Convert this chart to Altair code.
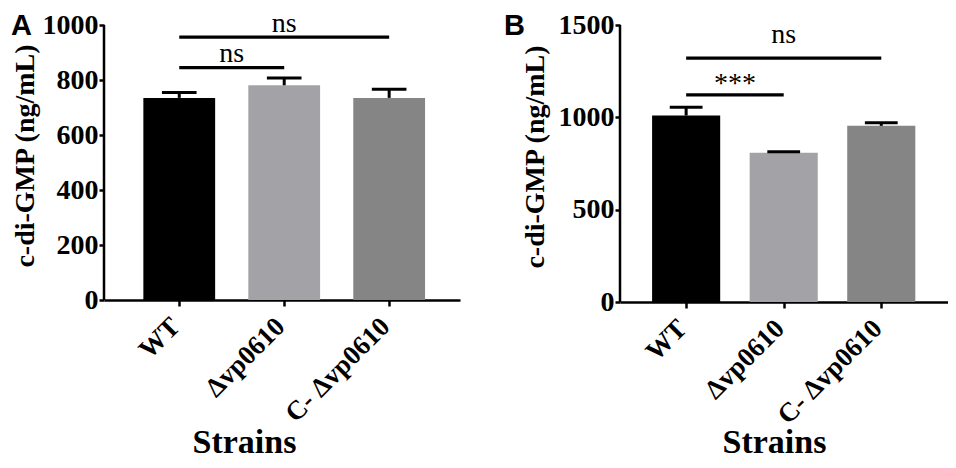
import json
import altair as alt
import pandas as pd

# ---- data ----
strains = ["WT", "Δvp0610", "C- Δvp0610"]
colors = ["#000000", "#a3a3a7", "#858585"]

a_mean = [735, 781, 735]
a_err = [20, 26, 31]
a_ticks = [0, 200, 400, 600, 800, 1000]
a_pair_from = [0, 0]
a_pair_to = [1, 2]
a_pair_y = [845, 956]
a_pair_text = ["ns", "ns"]
a_text_y = [867, 975]

b_mean = [1010, 808, 954]
b_err = [45, 6, 17]
b_ticks = [0, 500, 1000, 1500]
b_pair_from = [0, 0]
b_pair_to = [1, 2]
b_pair_y = [1122, 1321]
b_pair_text = ["***", "ns"]
b_text_y = [1135, 1400]

SERIF = "Liberation Serif"
SANS = "Liberation Sans"


def panel(letter, mean, err, ticks, ytop, pf, pt, py, ptext, pty,
          width, height, xdom, bar_half, cap_half,
          title_dx, title_dy, strains_x, strains_y, ytitle_pad):
    n = len(strains)
    bars = pd.DataFrame({
        "idx": list(range(n)),
        "strain": strains,
        "mean": mean,
        "top": [m + e for m, e in zip(mean, err)],
    })
    pairs = pd.DataFrame({"p0": pf, "p1": pt, "y": py, "label": ptext, "ty": pty})
    spine = pd.DataFrame({"s0": [ticks[0]], "s1": [ticks[-1]]})

    xscale = alt.Scale(domain=xdom, nice=False, zero=False)
    # a little head-room above the top tick for the significance labels
    yscale = alt.Scale(domain=[0, ytop], nice=False)
    label_expr = json.dumps(strains, ensure_ascii=False) + "[datum.value]"
    xaxis = alt.Axis(
        values=list(range(n)), labelExpr=label_expr, labelAngle=315,
        labelAlign="right", labelBaseline="middle", labelPadding=16, labelOffset=-4,
        labelFont=SERIF, labelFontSize=27, labelFontWeight="bold", labelColor="black",
        labelOverlap=False, labelFlush=False,
        tickSize=6, tickWidth=2.5, tickColor="black",
        domainColor="black", domainWidth=2.5, grid=False,
        titleFont=SERIF, titleFontSize=34, titleFontWeight="bold", titleColor="black",
        titleX=strains_x, titleY=strains_y, titleBaseline="alphabetic", titleAlign="center",
    )
    yaxis = alt.Axis(
        values=ticks, format="d", labelFont=SERIF, labelFontSize=28, labelFontWeight="bold",
        labelColor="black", labelPadding=1, tickSize=5, tickWidth=2.5, tickColor="black",
        domain=False, grid=False,
        titleFont=SERIF, titleFontSize=28, titleFontWeight="bold", titleColor="black",
        titlePadding=ytitle_pad,
    )

    def X(f):
        return alt.X(f, type="quantitative", scale=xscale, axis=xaxis, title="Strains")

    def Y(f):
        return alt.Y(f, type="quantitative", scale=yscale, axis=yaxis, title="c-di-GMP (ng/mL)")

    base = alt.Chart(bars)
    bar = base.transform_calculate(
        xa=f"datum.idx - {bar_half}", xb=f"datum.idx + {bar_half}", zero="0"
    ).mark_bar().encode(
        x=X("xa"), x2="xb:Q", y=Y("mean"), y2="zero:Q",
        color=alt.Color("strain:N", scale=alt.Scale(domain=strains, range=colors), legend=None),
    )
    stem = base.mark_rule(color="black", strokeWidth=3).encode(
        x=X("idx"), y=Y("mean"), y2="top:Q"
    )
    cap = base.transform_calculate(
        ca=f"datum.idx - {cap_half}", cb=f"datum.idx + {cap_half}"
    ).mark_rule(color="black", strokeWidth=3).encode(
        x=X("ca"), x2="cb:Q", y=Y("top")
    )
    # y-axis line from the first to the last tick
    yline = alt.Chart(spine).mark_rule(color="black", strokeWidth=2.5).encode(
        x=alt.datum(xdom[0]), y=Y("s0"), y2="s1:Q"
    )
    pc = alt.Chart(pairs)
    bracket = pc.mark_rule(color="black", strokeWidth=3.3).encode(
        x=X("p0"), x2="p1:Q", y=Y("y")
    )
    lab = pc.transform_calculate(mid="(datum.p0 + datum.p1) / 2").mark_text(
        font=SERIF, fontSize=28, baseline="alphabetic", align="center", color="black", clip=True
    ).encode(x=X("mid"), y=Y("ty"), text="label:N")

    return alt.layer(bar, stem, cap, yline, bracket, lab).properties(
        width=width, height=height,
        title=alt.TitleParams(
            text=letter, anchor="start", frame="bounds", font=SANS, fontSize=29,
            fontWeight="bold", color="black", dx=title_dx, dy=title_dy, offset=0,
        ),
    )


pa = panel("A", a_mean, a_err, a_ticks, 1051, a_pair_from, a_pair_to, a_pair_y, a_pair_text, a_text_y,
           356, 289, [-0.717, 2.675], 0.342, 0.165, 0, 30, 140, 152, 3)
pb = panel("B", b_mean, b_err, b_ticks, 1576, b_pair_from, b_pair_to, b_pair_y, b_pair_text, b_text_y,
           328, 291, [-0.678, 2.684], 0.349, 0.168, -17, 30, 154, 150, 9)

chart = alt.hconcat(pa, pb, spacing=44).properties(
    padding={"left": 3, "top": 3, "right": 0, "bottom": 0},
    background="white",
).configure_view(stroke=None)

chart.save("out.html", embed_options={"renderer": "svg", "actions": False})
